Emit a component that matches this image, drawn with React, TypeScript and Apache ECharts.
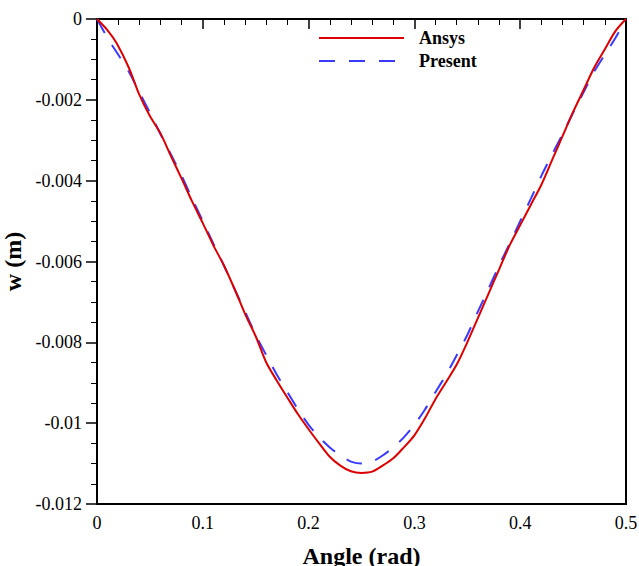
import React, { useEffect, useRef } from "react";
import * as echarts from "echarts";

const angleRed = [0, 0.01, 0.0186, 0.03, 0.04, 0.05, 0.06, 0.07, 0.08, 0.09, 0.1, 0.11, 0.12, 0.13, 0.14, 0.15, 0.16, 0.17, 0.18, 0.19, 0.2, 0.21, 0.22, 0.23, 0.24, 0.25, 0.26, 0.27, 0.28, 0.29, 0.3, 0.31, 0.32, 0.33, 0.34, 0.35, 0.36, 0.37, 0.38, 0.39, 0.4, 0.41, 0.42, 0.43, 0.44, 0.45, 0.46, 0.47, 0.48, 0.49, 0.5];
const wAnsys = [0, -0.00028, -0.0006, -0.0012, -0.00187, -0.0024, -0.00283, -0.0034, -0.00395, -0.00452, -0.00505, -0.0056, -0.0061, -0.00668, -0.0073, -0.00785, -0.0085, -0.00895, -0.00937, -0.00978, -0.01015, -0.0105, -0.01083, -0.01105, -0.01119, -0.01123, -0.0112, -0.01105, -0.01087, -0.0106, -0.0103, -0.00988, -0.0094, -0.00898, -0.00855, -0.008, -0.0074, -0.0068, -0.0062, -0.0056, -0.0051, -0.0046, -0.0041, -0.0035, -0.0029, -0.0023, -0.00175, -0.0012, -0.00075, -0.0003, 0];

const anglePresent = [0, 0.01, 0.02, 0.03, 0.04, 0.05, 0.06, 0.07, 0.08, 0.09, 0.1, 0.11, 0.12, 0.13, 0.14, 0.15, 0.16, 0.17, 0.18, 0.19, 0.2, 0.21, 0.22, 0.23, 0.24, 0.25, 0.26, 0.27, 0.28, 0.29, 0.3, 0.31, 0.32, 0.33, 0.34, 0.35, 0.36, 0.37, 0.38, 0.39, 0.4, 0.41, 0.42, 0.43, 0.44, 0.45, 0.46, 0.47, 0.48, 0.49, 0.5];
const wPresent = [0, -0.00047, -0.00088, -0.0013, -0.00181, -0.00232, -0.00285, -0.00336, -0.00388, -0.00445, -0.005, -0.00556, -0.0061, -0.00668, -0.00724, -0.00782, -0.00832, -0.0088, -0.00923, -0.00966, -0.01004, -0.01035, -0.0106, -0.0108, -0.01095, -0.011, -0.01095, -0.0108, -0.0106, -0.01035, -0.01004, -0.00966, -0.00923, -0.0088, -0.00832, -0.00782, -0.00724, -0.00668, -0.0061, -0.00556, -0.005, -0.00445, -0.00388, -0.00336, -0.00285, -0.00232, -0.00181, -0.0013, -0.00088, -0.00047, 0];

const seriesNames = ["Ansys", "Present"];
const xLabel = "Angle (rad)";
const yLabel = "w (m)";

const FONT = "Liberation Serif";

export default function App() {
  const ref = useRef<HTMLDivElement>(null);
  useEffect(() => {
    if (!ref.current) return;
    const chart = echarts.init(ref.current, null, { renderer: "svg" });
    const fmt = (v: number) => String(+v.toFixed(4));
    chart.setOption({
      animation: false,
      backgroundColor: "#ffffff",
      textStyle: { fontFamily: FONT },
      grid: {
        left: 97,
        top: 19,
        right: 13,
        bottom: 62,
        containLabel: false,
        outerBoundsMode: "none",
        show: true,
        borderColor: "#000",
        borderWidth: 2,
        backgroundColor: "transparent",
      },
      legend: {
        orient: "vertical",
        left: 313,
        top: 24,
        itemWidth: 85,
        itemHeight: 14,
        itemGap: 5,
        padding: 5,
        itemStyle: { opacity: 0 },
        textStyle: {
          fontFamily: FONT,
          fontWeight: "bold",
          fontSize: 18,
          color: "#000",
          lineHeight: 18,
          padding: [0, 0, 0, 10],
        },
        data: seriesNames,
      },
      xAxis: {
        type: "value",
        min: 0,
        max: 0.5,
        interval: 0.1,
        name: xLabel,
        nameLocation: "middle",
        nameGap: 40,
        nameTextStyle: { fontFamily: FONT, fontWeight: "bold", fontSize: 24, color: "#000" },
        axisLine: { show: true, lineStyle: { color: "#000", width: 2 } },
        axisTick: { show: true, inside: false, length: 10, lineStyle: { color: "#000", width: 1.5 } },
        minorTick: { show: true, splitNumber: 5, length: 6, lineStyle: { color: "#000", width: 1 } },
        splitLine: { show: false },
        axisLabel: { fontFamily: FONT, fontSize: 18, color: "#000", margin: 10, formatter: fmt },
      },
      yAxis: {
        type: "value",
        min: -0.012,
        max: 0,
        interval: 0.002,
        name: yLabel,
        nameLocation: "middle",
        nameGap: 62,
        nameTextStyle: { fontFamily: FONT, fontWeight: "bold", fontSize: 24, color: "#000" },
        axisLine: { show: true, lineStyle: { color: "#000", width: 2 } },
        axisTick: { show: true, inside: false, length: 11, lineStyle: { color: "#000", width: 1.5 } },
        minorTick: { show: true, splitNumber: 4, length: 6, lineStyle: { color: "#000", width: 1 } },
        splitLine: { show: false },
        axisLabel: { fontFamily: FONT, fontSize: 18, color: "#000", margin: 15, formatter: fmt },
      },
      series: [
        {
          name: seriesNames[0],
          type: "line",
          data: angleRed.map((x, i) => [x, wAnsys[i]]),
          showSymbol: false,
          symbol: "none",
          smooth: 0.3,
          lineStyle: { color: "#dd0000", width: 2 },
          itemStyle: { color: "#dd0000" },
          z: 3,
        },
        {
          name: seriesNames[1],
          type: "line",
          data: anglePresent.map((x, i) => [x, wPresent[i]]),
          showSymbol: false,
          symbol: "none",
          smooth: 0.3,
          lineStyle: { color: "#3a3aff", width: 2, type: [16, 14] },
          itemStyle: { color: "#3a3aff" },
          z: 2,
        },
      ],
    });
    return () => chart.dispose();
  }, []);
  return (
    <div
      ref={ref}
      style={{ position: "fixed", left: 0, top: 0, width: 639, height: 566, background: "#fff" }}
    />
  );
}
